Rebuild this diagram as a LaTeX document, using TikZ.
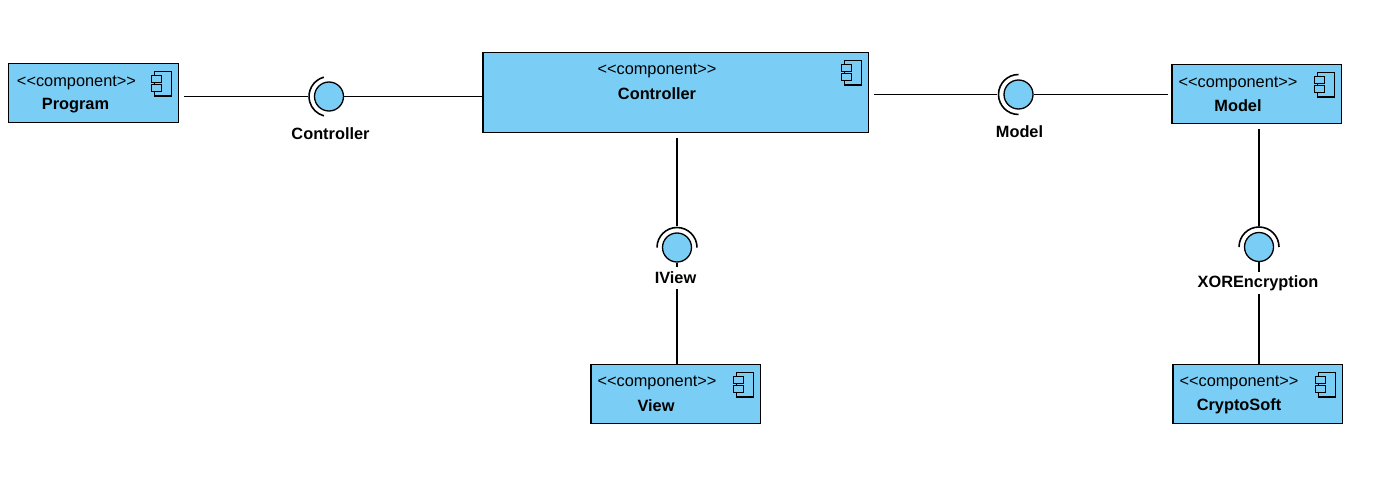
\documentclass[tikz,border=0pt]{standalone}
\usepackage{fontspec}
\setmainfont{Liberation Sans}
\definecolor{compblue}{HTML}{7ACEF6}
\newcommand{\compicon}[1]{
        \draw[iconline] ([xshift=-0.5cm, yshift=-0.17cm]#1.north east) rectangle ([xshift=-0.16cm, yshift=-0.66cm]#1.north east);
        \draw[iconline, fill=compblue] ([xshift=-0.56cm, yshift=-0.25cm]#1.north east) rectangle ([xshift=-0.36cm, yshift=-0.39cm]#1.north east);
        \draw[iconline, fill=compblue] ([xshift=-0.56cm, yshift=-0.43cm]#1.north east) rectangle ([xshift=-0.36cm, yshift=-0.57cm]#1.north east);
}
\newcommand{\socketarc}[3]{
        \draw[wire] ([shift={(#2:0.4cm)}]#1.center) arc[start angle=#2, end angle=#3, radius=0.4cm];
}

\begin{document}
\begin{tikzpicture}[x=0.02cm, y=-0.02cm]
        \tikzstyle{comp} = [draw, fill=compblue, line width=0.85pt, inner sep=0pt, anchor=north west]
        \tikzstyle{ball} = [draw, fill=compblue, circle, line width=0.75pt, minimum size=0.58cm, inner sep=0pt]
        \tikzstyle{stereo} = [font=\fontsize{9.3pt}{11pt}\selectfont, inner sep=0pt, yshift=-0.04cm]
        \tikzstyle{title} = [font=\fontsize{9.3pt}{11pt}\selectfont\bfseries, inner sep=0pt, yshift=-0.04cm]
        \tikzstyle{lbl} = [font=\fontsize{9.3pt}{11pt}\selectfont\bfseries, inner sep=0pt, minimum height=0.43cm, yshift=-0.02cm]
        \tikzstyle{wire} = [line width=0.9pt]
        \tikzstyle{iconline} = [line width=0.65pt]
        \useasboundingbox (0, 0) rectangle (1388, 500);
        \node[comp, minimum width=3.4cm, minimum height=1.18cm] (program) at (8, 63) {};
        \node[comp, minimum width=7.72cm, minimum height=1.6cm] (controller) at (482, 52) {};
        \node[comp, minimum width=3.4cm, minimum height=1.18cm] (model) at (1171, 64) {};
        \node[comp, minimum width=3.4cm, minimum height=1.18cm] (view) at (590, 364) {};
        \node[comp, minimum width=3.4cm, minimum height=1.18cm] (crypto) at (1172, 364) {};
        \node[stereo] (programS) at (76.5, 81) {<{}<component>{}>};
        \node[title] (programT) at (75.5, 104) {Program};
        \node[stereo] (controllerS) at (657, 69) {<{}<component>{}>};
        \node[title] (controllerT) at (657, 92) {Controller};
        \node[stereo] (modelS) at (1238, 82) {<{}<component>{}>};
        \node[title] (modelT) at (1238, 104) {Model};
        \node[stereo] (viewS) at (657, 381) {<{}<component>{}>};
        \node[title] (viewT) at (656, 404) {View};
        \node[stereo] (cryptoS) at (1239, 381) {<{}<component>{}>};
        \node[title] (cryptoT) at (1239, 404) {CryptoSoft};
        \compicon{program}
        \compicon{controller}
        \compicon{model}
        \compicon{view}
        \compicon{crypto}
        \node[ball] (controllerB) at (329, 96.5) {};
        \node[ball] (modelB) at (1018.5, 94.5) {};
        \node[ball] (iviewB) at (677, 247.5) {};
        \node[ball] (xorB) at (1259, 247) {};
        \socketarc{controllerB}{105}{255}
        \socketarc{modelB}{90}{270}
        \socketarc{iviewB}{0}{180}
        \socketarc{xorB}{0}{180}
        \node[lbl] (controllerL) at (330.5, 133) {Controller};
        \node[lbl] (modelL) at (1019.5, 131) {Model};
        \node[lbl] (iviewL) at (675.5, 277) {IView};
        \node[lbl] (xorL) at (1258, 282) {XOREncryption};
        \draw[wire, shorten <=0.1cm, shorten >=0.12cm] (controllerB -| program.east) -- (controllerB);
        \draw[wire] (controllerB) -- (controllerB -| controller.west);
        \draw[wire, shorten <=0.1cm, shorten >=0.12cm] (modelB -| controller.east) -- (modelB);
        \draw[wire, shorten >=0.06cm] (modelB) -- (modelB -| model.west);
        \draw[wire, shorten <=0.1cm, shorten >=0.12cm] (iviewB |- controller.south) -- (iviewB);
        \draw[wire] (iviewB) -- (iviewB |- iviewL.north);
        \draw[wire] (iviewB |- iviewL.south) -- (iviewB |- view.north);
        \draw[wire, shorten <=0.1cm, shorten >=0.12cm] (xorB |- model.south) -- (xorB);
        \draw[wire] (xorB) -- (xorB |- xorL.north);
        \draw[wire] (xorB |- xorL.south) -- (xorB |- crypto.north);
\end{tikzpicture}
\end{document}
